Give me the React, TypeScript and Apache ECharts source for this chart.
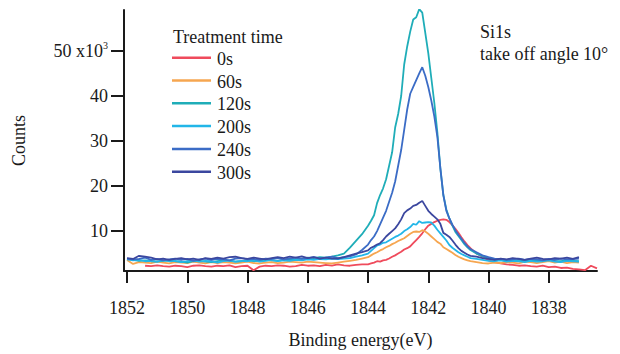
import React, { useEffect, useRef } from 'react';
import * as echarts from 'echarts';

// Binding energy (eV)
const energies = [
  1852.0, 1851.8, 1851.6, 1851.4, 1851.2, 1851.0, 1850.8, 1850.6, 1850.4, 1850.2,
  1850.0, 1849.8, 1849.6, 1849.4, 1849.2, 1849.0, 1848.8, 1848.6, 1848.4, 1848.2,
  1848.0, 1847.8, 1847.6, 1847.4, 1847.2, 1847.0, 1846.8, 1846.6, 1846.4, 1846.2,
  1846.0, 1845.8, 1845.6, 1845.4, 1845.2, 1845.0, 1844.8, 1844.6, 1844.4, 1844.2,
  1844.0, 1843.9, 1843.8, 1843.7, 1843.6, 1843.5, 1843.4, 1843.3, 1843.2, 1843.1,
  1843.0, 1842.9, 1842.8, 1842.7, 1842.6, 1842.5, 1842.4, 1842.3, 1842.2, 1842.1,
  1842.0, 1841.9, 1841.8, 1841.7, 1841.6, 1841.5, 1841.4, 1841.3, 1841.2, 1841.1,
  1841.0, 1840.9, 1840.8, 1840.7, 1840.6,
  1840.4, 1840.2, 1840.0, 1839.8, 1839.6, 1839.4, 1839.2, 1839.0, 1838.8, 1838.6,
  1838.4, 1838.2, 1838.0, 1837.8, 1837.6, 1837.4, 1837.2, 1837.0, 1836.8, 1836.6,
  1836.4,
];

// Counts (x10^3)
const counts0s = [
  null, null, null, 2.3, 2.2, 2.4, 2.2, 2.1, 2.3, 2.2,
  2.0, 2.3, 2.4, 2.2, 2.1, 2.3, 2.2, 2.4, 2.0, 2.2,
  2.3, 1.3, 2.1, 2.3, 2.2, 2.4, 2.3, 2.1, 2.2, 2.5,
  2.3, 2.4, 2.2, 2.5, 2.3, 2.6, 2.4, 2.3, 2.5, 2.6,
  2.6, 2.8, 3.0, 3.3, 3.2, 3.5, 3.6, 3.9, 4.3, 4.6,
  5.0, 5.4, 5.9, 6.2, 6.6, 7.3, 8.0, 8.7, 9.5, 10.4,
  11.2, 11.6, 12.0, 12.3, 12.5, 12.6, 12.5, 12.0, 11.3, 10.5,
  9.6, 8.6, 7.7, 6.9, 6.2,
  5.0, 4.3, 3.5, 3.1, 2.8, 2.6, 2.5, 2.3, 2.4, 2.2,
  2.1, 2.3, 2.0, 2.1, 1.8, 1.9, 1.6, 1.5, 1.3, 2.3,
  1.7,
];
const counts60s = [
  3.6, 2.7, 3.1, 3.0, 2.9, 3.2, 3.0, 2.8, 3.1, 3.0,
  2.9, 3.2, 3.0, 2.8, 3.1, 2.9, 3.1, 3.0, 2.8, 3.0,
  3.2, 2.9, 2.8, 3.0, 3.1, 2.9, 3.0, 3.2, 3.1, 3.0,
  3.2, 3.1, 3.0, 2.9, 2.8, 3.0, 3.2, 3.4, 3.6, 3.9,
  4.2, 4.6, 5.0, 5.3, 5.7, 6.0, 6.4, 6.7, 7.1, 7.4,
  7.8, 8.1, 8.4, 8.9, 9.4, 9.8, 9.9, 9.8, 10.2, 9.9,
  9.4, 8.8, 8.2, 7.6, 7.2, 6.4, 6.0, 5.6, 5.2, 4.7,
  4.3, 4.0, 3.7, 3.5, 3.3,
  3.1, 2.9, 2.8, 3.0, 2.9, 3.1, 3.0, 2.8, 3.2, 3.1,
  2.9, 3.1, 3.3, 3.0, 3.2, 2.9, 3.1, 3.0, null, null,
  null,
];
const counts120s = [
  3.8, 3.6, 3.4, 3.5, 3.3, 3.2, 3.4, 3.5, 3.3, 3.2,
  3.0, 3.3, 3.4, 3.2, 3.1, 3.3, 3.5, 3.4, 3.2, 3.3,
  3.5, 3.3, 3.4, 3.6, 3.5, 3.4, 3.6, 3.8, 3.7, 3.9,
  4.1, 4.0, 4.2, 4.1, 4.3, 4.6, 5.0, 6.3, 7.8, 9.3,
  11.2, 12.3, 13.5, 16.2, 18.0, 19.5, 21.5, 24.5, 27.5, 33.0,
  36.0, 40.0, 47.0, 51.0, 54.3, 57.0, 57.5, 59.3, 58.5, 54.0,
  49.5, 44.0, 38.5, 32.0, 24.0, 18.0, 14.8, 12.8, 11.2, 9.8,
  8.9, 8.0, 7.1, 6.4, 5.8,
  5.0, 4.4, 3.9, 3.7, 3.6, 3.5, 3.4, 3.6, 3.5, 3.3,
  3.5, 3.4, 3.6, 3.4, 3.3, 3.5, 3.4, 3.3, null, null,
  null,
];
const counts200s = [
  3.7, 3.5, 3.6, 3.3, 3.4, 3.2, 3.5, 3.3, 3.4, 3.1,
  3.3, 3.5, 3.2, 3.4, 3.3, 3.0, 3.3, 3.5, 3.2, 3.4,
  3.3, 3.5, 3.2, 3.4, 3.6, 3.3, 3.5, 3.4, 3.6, 3.5,
  3.7, 3.6, 3.8, 3.7, 3.9, 3.8, 3.9, 4.0, 4.3, 4.6,
  5.0, 5.6, 6.2, 6.8, 7.0, 7.4, 7.5, 7.9, 8.3, 8.7,
  9.0, 9.4, 10.0, 10.4, 10.9, 11.6, 11.4, 12.2, 11.8, 11.9,
  12.0, 11.9, 11.2, 10.3, 9.5, 8.7, 7.9, 6.9, 6.3, 5.8,
  5.3, 4.9, 4.6, 4.3, 4.0,
  3.8, 3.6, 3.4, 3.3, 3.5, 3.2, 3.4, 3.3, 3.1, 3.4,
  3.2, 3.3, 3.5, 3.2, 3.1, 3.4, 3.3, 3.2, null, null,
  null,
];
const counts240s = [
  3.9, 3.7, 3.8, 4.1, 3.6, 3.8, 3.5, 3.7, 3.9, 3.6,
  3.8, 3.4, 3.7, 3.9, 3.6, 3.8, 3.7, 3.5, 3.9, 4.0,
  3.7, 3.8, 3.6, 3.9, 3.8, 4.0, 3.7, 3.9, 4.1, 3.8,
  4.0, 4.2, 3.9, 4.1, 4.3, 4.0, 4.2, 4.4, 4.8, 5.8,
  7.0, 8.0, 8.8, 10.0, 11.5, 13.0, 14.5, 16.5, 18.5, 21.0,
  24.5, 28.0, 32.5, 37.0, 40.5, 42.0, 43.5, 45.0, 46.4, 44.5,
  42.0, 39.0, 35.5, 31.0, 24.0, 18.0, 14.5, 12.8, 11.4, 10.2,
  9.2, 8.3, 7.4, 6.6, 6.0,
  5.3, 4.6, 4.2, 3.9, 3.8, 3.6, 3.7, 3.9, 3.6, 3.8,
  3.7, 3.5, 3.8, 3.6, 3.9, 3.7, 3.8, 3.9, null, null,
  null,
];
const counts300s = [
  4.0, 3.8, 4.5, 4.3, 4.1, 3.7, 3.9, 3.6, 3.8, 4.0,
  3.7, 3.9, 3.6, 4.0, 3.8, 4.1, 3.9, 4.2, 4.3, 4.0,
  3.8, 4.1, 3.9, 3.7, 4.0, 4.2, 4.0, 4.3, 4.1, 4.4,
  4.0, 4.2, 3.9, 4.1, 3.9, 3.9, 4.2, 4.6, 5.0, 5.3,
  5.7, 6.3, 6.6, 7.0, 7.3, 8.0, 8.8, 9.4, 10.0, 10.6,
  11.5, 12.6, 14.0, 14.6, 15.0, 15.6, 15.8, 16.3, 16.7, 15.6,
  14.5, 13.8, 13.2, 12.6, 11.6, 9.6, 9.2, 8.7, 7.9, 7.0,
  6.2, 5.6, 5.2, 4.8, 4.5,
  4.3, 4.0, 3.8, 3.6, 3.9, 3.7, 4.0, 3.8, 3.6, 3.9,
  4.1, 3.8, 3.7, 4.0, 3.9, 4.1, 3.8, 4.2, null, null,
  null,
];

const seriesNames = ['0s', '60s', '120s', '200s', '240s', '300s'];
const seriesValues = [counts0s, counts60s, counts120s, counts200s, counts240s, counts300s];
const seriesColors = ['#ef4b5c', '#f6a650', '#1fadb8', '#22b6e8', '#3b6cc6', '#3b479f'];

const xTicks = [1852, 1850, 1848, 1846, 1844, 1842, 1840, 1838];
const yTicks = [10, 20, 30, 40, 50];

const FONT = 'Liberation Serif';
const INK = '#1a1a1a';

// legend layout (pixels)
const LEG_X = 172;
const LEG_Y0 = 57.7;
const LEG_STEP = 22.8;
const LEG_LEN = 39;

export default function App() {
  const ref = useRef<HTMLDivElement>(null);
  useEffect(() => {
    const chart = echarts.init(ref.current!, null, { renderer: 'svg' });
    const legendGraphics: any[] = [];
    seriesNames.forEach((name, k) => {
      const y = LEG_Y0 + k * LEG_STEP;
      legendGraphics.push({
        type: 'line',
        shape: { x1: LEG_X, y1: y, x2: LEG_X + LEG_LEN, y2: y },
        style: { stroke: seriesColors[k], lineWidth: 2.5 },
      });
      legendGraphics.push({
        type: 'text',
        x: LEG_X + LEG_LEN + 6,
        y: y + 1,
        style: { text: name, font: `18px "${FONT}"`, fill: INK, verticalAlign: 'middle', align: 'left' },
      });
    });
    chart.setOption({
      animation: false,
      backgroundColor: '#ffffff',
      textStyle: { fontFamily: FONT, color: INK },
      grid: { left: 124, right: 23, top: 10, bottom: 76 },
      xAxis: {
        type: 'value',
        min: 1836.4,
        max: 1852.1,
        inverse: true,
        name: 'Binding energy(eV)',
        nameLocation: 'middle',
        nameGap: 60,
        nameTextStyle: { fontFamily: FONT, fontSize: 18, color: INK },
        axisLine: { show: true, onZero: false, lineStyle: { color: INK, width: 2 } },
        axisTick: { show: true, length: 12, customValues: xTicks, lineStyle: { color: INK, width: 2 } },
        axisLabel: {
          customValues: xTicks,
          margin: 28,
          fontFamily: FONT,
          fontSize: 18,
          color: INK,
          formatter: (v: number) => String(v),
        },
        splitLine: { show: false },
      },
      yAxis: {
        type: 'value',
        min: 1.13,
        max: 59.1,
        name: 'Counts',
        nameLocation: 'middle',
        nameRotate: 90,
        nameGap: 96,
        nameTextStyle: { fontFamily: FONT, fontSize: 18, color: INK },
        axisLine: { show: true, onZero: false, lineStyle: { color: INK, width: 2 } },
        axisTick: { show: true, length: 13, customValues: yTicks, lineStyle: { color: INK, width: 2 } },
        axisLabel: {
          customValues: yTicks,
          margin: 16,
          fontFamily: FONT,
          fontSize: 18,
          color: INK,
          formatter: (v: number) => (v === 50 ? '{n|50 x10}{s|3}' : String(v)),
          rich: {
            n: { fontFamily: FONT, fontSize: 18, color: INK },
            s: { fontFamily: FONT, fontSize: 10, color: INK, padding: [0, 0, 10, 0] },
          },
        },
        splitLine: { show: false },
      },
      graphic: [
        {
          type: 'text',
          left: 173,
          top: 28,
          style: { text: 'Treatment time', font: `18px "${FONT}"`, fill: INK },
        },
        {
          type: 'text',
          left: 480,
          top: 21,
          style: { text: 'Si1s\ntake off angle 10°', font: `18px "${FONT}"`, fill: INK, lineHeight: 22 },
        },
        ...legendGraphics,
      ],
      series: seriesNames.map((name, k) => ({
        name,
        type: 'line',
        showSymbol: false,
        color: seriesColors[k],
        lineStyle: { width: 1.8, color: seriesColors[k] },
        data: energies.map((e, i) => [e, seriesValues[k][i]]),
      })),
    });
    return () => chart.dispose();
  }, []);
  return <div ref={ref} style={{ position: 'fixed', left: 0, top: 0, width: 620, height: 354 }} />;
}
